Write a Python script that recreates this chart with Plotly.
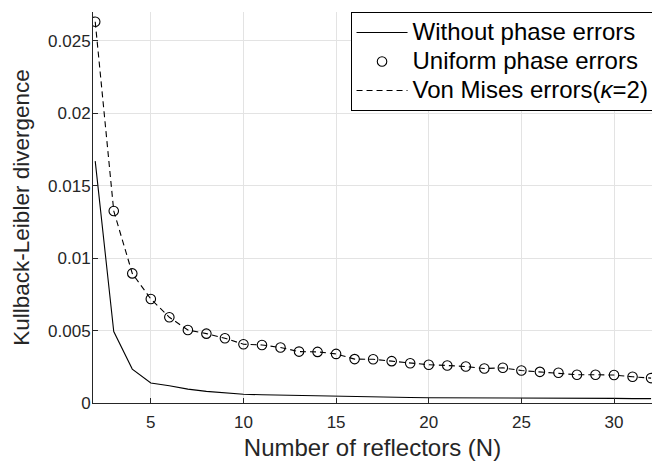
import plotly.graph_objects as go

# Number of reflectors
N = list(range(2, 33))

# KL divergence, ideal phases
kl_no_error = [0.0167, 0.00493, 0.00234, 0.00138, 0.00119, 0.00096, 0.00080, 0.00069,
               0.00060, 0.00057, 0.00054, 0.00051, 0.00048, 0.00045, 0.00044, 0.00043,
               0.00041, 0.00038, 0.00036, 0.00036, 0.00035, 0.00036, 0.00034, 0.00034,
               0.00035, 0.00033, 0.00032, 0.00033, 0.00032, 0.00030, 0.00030]

# KL divergence, uniform phase errors
kl_uniform = [0.02633, 0.01326, 0.00895, 0.00718, 0.00592, 0.00504, 0.00479, 0.00447,
              0.00406, 0.00401, 0.00383, 0.00355, 0.00353, 0.00339, 0.00303, 0.00302,
              0.00289, 0.00275, 0.00264, 0.00259, 0.00252, 0.00238, 0.00243, 0.00224,
              0.00215, 0.00209, 0.00195, 0.00195, 0.00193, 0.00181, 0.00172]

# KL divergence, von Mises phase errors (kappa = 2)
kl_vonmises = [0.02633, 0.01326, 0.00895, 0.00718, 0.00592, 0.00504, 0.00479, 0.00447,
               0.00406, 0.00401, 0.00383, 0.00355, 0.00353, 0.00339, 0.00303, 0.00302,
               0.00289, 0.00275, 0.00264, 0.00259, 0.00252, 0.00238, 0.00243, 0.00224,
               0.00215, 0.00209, 0.00195, 0.00195, 0.00193, 0.00181, 0.00172]

x_ticks = [5, 10, 15, 20, 25, 30]
y_ticks = [0, 0.005, 0.01, 0.015, 0.02, 0.025]
y_tick_labels = ["0", "0.005", "0.01", "0.015", "0.02", "0.025"]

FONT = "Liberation Sans, Arial, Helvetica, sans-serif"
AX = "#262626"
GRID = "#e3e3e3"


def legend_label(text):
    # larger glyphs than the legend's row height is computed from
    return '<span style="font-size:24px">' + text + "</span>"


fig = go.Figure()
fig.add_trace(go.Scatter(
    x=N, y=kl_no_error, mode="lines", name=legend_label("Without phase errors"),
    line=dict(color="black", width=1.1),
))
fig.add_trace(go.Scatter(
    x=N, y=kl_uniform, mode="markers", name=legend_label("Uniform phase errors"),
    marker=dict(symbol="circle-open", size=9.5, color="black", line=dict(width=1.1)),
))
fig.add_trace(go.Scatter(
    x=N, y=kl_vonmises, mode="lines", name=legend_label("Von Mises errors(<i>κ</i>=2)"),
    line=dict(color="black", width=1.1, dash="6px,4px"),
))

fig.update_layout(
    width=652, height=461,
    margin=dict(l=93, r=0, t=12, b=58, autoexpand=False),
    paper_bgcolor="white", plot_bgcolor="white",
    font=dict(family=FONT, color=AX),
    showlegend=True,
    legend=dict(
        x=0.4607, y=1.0, xanchor="left", yanchor="top",
        bgcolor="white", bordercolor="black", borderwidth=1,
        font=dict(family=FONT, size=20, color="black"),
        itemwidth=51, tracegroupgap=0,
    ),
    xaxis=dict(
        range=[1.88, 32.05], tickvals=x_ticks,
        showgrid=True, gridcolor=GRID, gridwidth=1,
        showline=True, linecolor=AX, linewidth=1, mirror=False,
        ticks="inside", ticklen=5, tickcolor=AX,
        tickfont=dict(family=FONT, size=17, color=AX),
        ticklabelstandoff=4,
        zeroline=False,
        title=dict(text="Number of reflectors (N)", font=dict(family=FONT, size=24, color=AX), standoff=8),
    ),
    yaxis=dict(
        range=[0, 0.027], tickvals=y_ticks, ticktext=y_tick_labels,
        showgrid=True, gridcolor=GRID, gridwidth=1,
        showline=True, linecolor=AX, linewidth=1, mirror=False,
        ticks="inside", ticklen=5, tickcolor=AX,
        tickfont=dict(family=FONT, size=17, color=AX),
        ticklabelstandoff=-2,
        zeroline=False,
        title=dict(text="Kullback-Leibler divergence", font=dict(family=FONT, size=22.5, color=AX), standoff=12),
    ),
)

fig.write_html("out.html")
